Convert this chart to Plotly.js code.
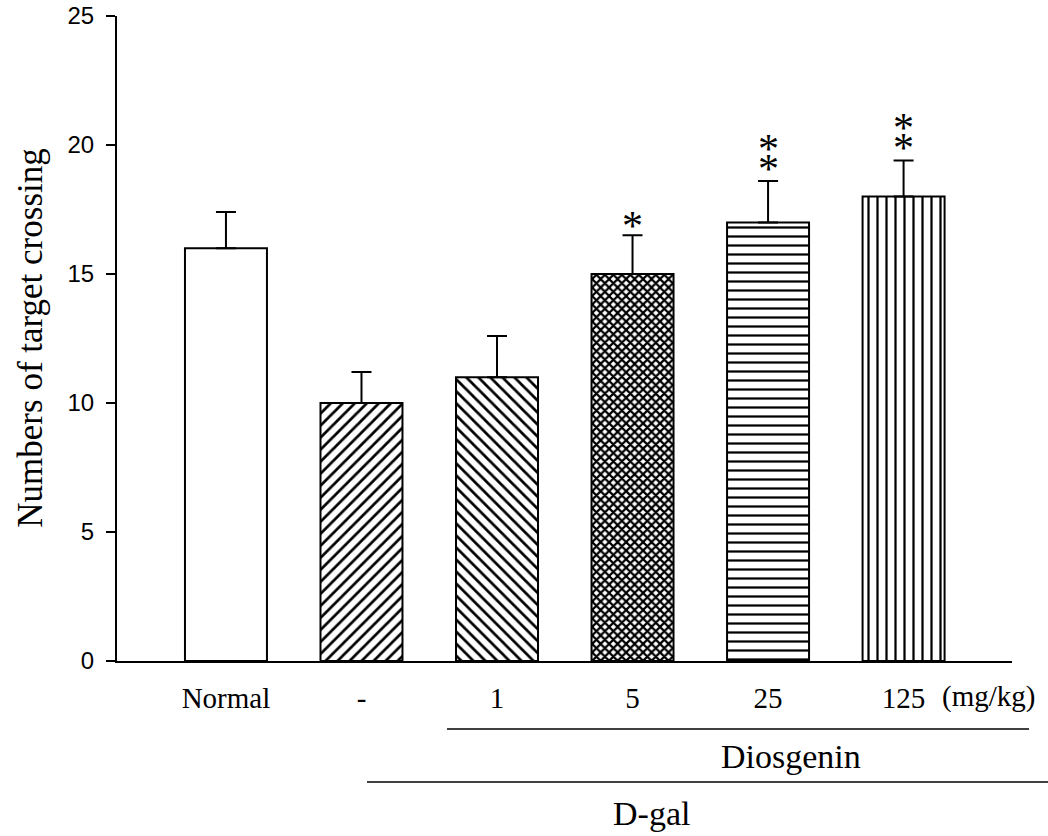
<!DOCTYPE html>
<html><head><meta charset="utf-8">
<script src="https://cdn.plot.ly/plotly-3.0.1.min.js"></script>
<style>html,body{margin:0;padding:0;background:#fff}</style>
</head><body>
<div id="chart" style="width:1048px;height:836px"></div>
<script>
const groups = ['Normal', '-', '1', '5', '25', '125'];
const means = [16, 10, 11, 15, 17, 18];
const sem = [1.4, 1.2, 1.6, 1.5, 1.6, 1.4];
const significance = ['', '', '', '*', '**', '**'];
const yTicks = [0, 5, 10, 15, 20, 25];
const yTitle = 'Numbers of target crossing';
const doseUnit = '(mg/kg)';
const treatmentLabel = 'Diosgenin';
const modelLabel = 'D-gal';

const xIdx = groups.map((g, i) => i);
const serif = 'Liberation Serif, Times New Roman, serif';
const sans = 'Liberation Sans, Arial, sans-serif';

const trace = {
  type: 'bar',
  x: xIdx,
  y: means,
  width: 0.605,
  marker: {
    color: '#ffffff',
    line: {color: '#000', width: 2},
    pattern: {
      shape: ['', '/', '\\', 'x', '-', '|'],
      fgcolor: '#000',
      bgcolor: '#fff',
      size: [8, 8.5, 8.5, 6, 9, 9],
      solidity: [0.3, 0.32, 0.32, 0.6, 0.25, 0.25],
      fillmode: 'replace'
    }
  },
  error_y: {
    type: 'data', symmetric: false, array: sem, arrayminus: sem.map(() => 0),
    color: '#000', thickness: 2, width: 10
  },
  hoverinfo: 'none'
};

const annotations = [];
significance.forEach((s, i) => {
  for (let k = 0; k < s.length; k++) {
    annotations.push({
      x: i, y: means[i] + sem[i], xref: 'x', yref: 'y',
      text: '*', showarrow: false, yanchor: 'middle',
      yshift: (s.length > 1 ? 12 : 9) + 20 * k,
      font: {family: serif, size: 42, color: '#000'}
    });
  }
});
annotations.push({
  x: -0.097, y: 0.5, xref: 'paper', yref: 'paper', text: yTitle, textangle: -90,
  showarrow: false, xanchor: 'center', yanchor: 'middle',
  font: {family: serif, size: 35, color: '#000'}
});
annotations.push({
  x: groups.length - 1, y: -0.0555, xref: 'x', yref: 'paper', text: doseUnit,
  showarrow: false, xanchor: 'left', yanchor: 'middle', xshift: 36,
  font: {family: serif, size: 29, color: '#000'}
});
annotations.push({
  x: 4.17, y: -0.1488, xref: 'x', yref: 'paper', text: treatmentLabel,
  showarrow: false, xanchor: 'center', yanchor: 'middle',
  font: {family: serif, size: 34, color: '#000'}
});
annotations.push({
  x: 3.14, y: -0.2357, xref: 'x', yref: 'paper', text: modelLabel,
  showarrow: false, xanchor: 'center', yanchor: 'middle',
  font: {family: serif, size: 34, color: '#000'}
});

const shapes = [
  {type: 'line', xref: 'paper', yref: 'paper', x0: 0.3687, x1: 1.019, y0: -0.1054, y1: -0.1054, line: {color: '#000', width: 1.5}},
  {type: 'line', xref: 'paper', yref: 'paper', x0: 0.2793, x1: 1.05, y0: -0.1876, y1: -0.1876, line: {color: '#000', width: 1.5}}
];

const layout = {
  width: 1048, height: 836,
  margin: {l: 117, r: 36, t: 16, b: 175},
  paper_bgcolor: '#fff', plot_bgcolor: '#fff',
  showlegend: false,
  xaxis: {
    range: [-0.804, 5.80], tickvals: xIdx, ticktext: groups,
    showline: true, linecolor: '#000', linewidth: 2,
    ticks: '', showgrid: false, zeroline: false,
    ticklabelstandoff: 10,
    tickfont: {family: serif, size: 29, color: '#000'}
  },
  yaxis: {
    range: [0, 25], tickvals: yTicks,
    showline: true, linecolor: '#000', linewidth: 2,
    ticks: 'outside', ticklen: 9, tickwidth: 2, tickcolor: '#000',
    showgrid: false, zeroline: false,
    ticklabelstandoff: 7,
    tickfont: {family: sans, size: 24, color: '#000'}
  },
  annotations: annotations,
  shapes: shapes
};

Plotly.newPlot('chart', [trace], layout, {displayModeBar: false, staticPlot: true});
</script>
</body></html>
